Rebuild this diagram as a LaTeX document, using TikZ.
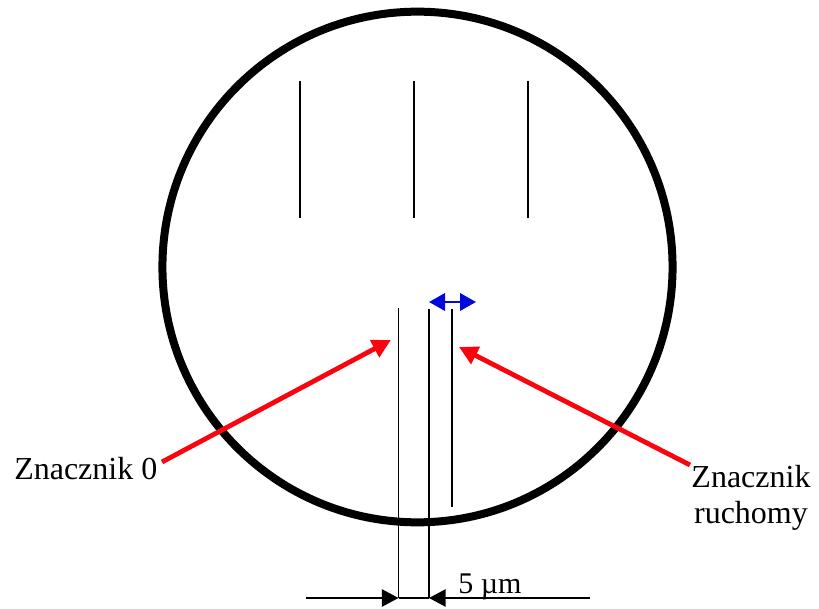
\documentclass[tikz,border=0pt]{standalone}
\usepackage{fontspec}
\setmainfont{Liberation Serif}
\usetikzlibrary{arrows.meta}
\definecolor{redarrow}{RGB}{250,5,15}
\definecolor{bluearrow}{RGB}{0,10,220}
\tikzset{
 mark line/.style={draw=black,line width=1.2pt},
 red arrow/.style={draw=redarrow,line width=3.6pt,-{Triangle[length=14pt,width=14pt]}},
 blue arrow/.style={draw=bluearrow,line width=2pt,{Triangle[length=12pt,width=13pt]}-{Triangle[length=12pt,width=13pt]}},
 dim arrow/.style={draw=black,line width=1.2pt,-{Triangle[length=12.5pt,width=13pt]}},
 lab/.style={font=\fontsize{24}{27.5}\selectfont,inner sep=0pt,align=center},
}
\begin{document}
\begin{tikzpicture}[x=1pt,y=1pt]
\useasboundingbox (0,0) rectangle (614.25,456);
\fill[white] (0,0) rectangle (614.25,456);
\coordinate (c) at ({417.5*0.75},{(608-267)*0.75});
\draw[line width=6pt] (c) ellipse [x radius=191.3pt, y radius=191.5pt];
\foreach \x in {300,414,528}{\draw[mark line] ({\x*0.75},{(608-81)*0.75}) -- ({\x*0.75},{(608-218)*0.75});}
\coordinate (a1) at ({398.5*0.75},{(608-308)*0.75});
\coordinate (a2) at ({398.5*0.75},{(608-598)*0.75});
\coordinate (b1) at ({429*0.75},{(608-309)*0.75});
\coordinate (b2) at ({429*0.75},{(608-598)*0.75});
\coordinate (d1) at ({452*0.75},{(608-309)*0.75});
\coordinate (d2) at ({452*0.75},{(608-507)*0.75});
\draw[mark line] (a1) -- (a2);
\draw[mark line] (b1) -- (b2);
\draw[mark line] (d1) -- (d2);
\draw[mark line] (a2) -- (b2);
\node[lab,anchor=west] (z0) at ({14*0.75},{(608-469)*0.75}) {Znacznik 0};
\node[lab] (zr) at ({751*0.75},{(608-498)*0.75}) {Znacznik\\ruchomy};
\node[lab,anchor=west,font=\fontsize{22.5}{26}\selectfont] (um) at ({458*0.75},{(608-587)*0.75}) {5 µm};
\coordinate (r1) at ({162*0.75},{(608-462)*0.75});
\coordinate (r1e) at ({391*0.75},{(608-340)*0.75});
\coordinate (r2) at ({690*0.75},{(608-465)*0.75});
\coordinate (r2e) at ({459*0.75},{(608-347)*0.75});
\draw[red arrow] (r1) -- (r1e);
\draw[red arrow] (r2) -- (r2e);
\coordinate (bl) at ({429*0.75},{(608-302)*0.75});
\coordinate (br) at ({476*0.75},{(608-302)*0.75});
\draw[blue arrow] (bl) -- (br);
\coordinate (l1) at ({306*0.75},{(608-598)*0.75});
\coordinate (l2) at ({590*0.75},{(608-598)*0.75});
\draw[dim arrow] (l1) -- (a2);
\draw[dim arrow] (l2) -- (b2);
\end{tikzpicture}
\end{document}
